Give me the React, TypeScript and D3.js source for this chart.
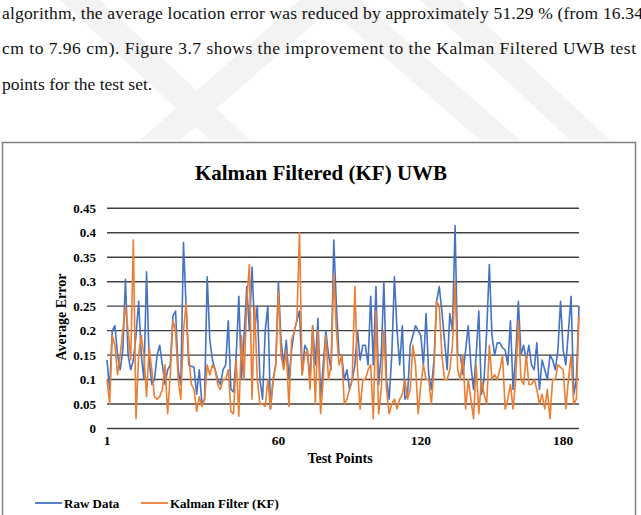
import React from 'react';
import * as d3 from 'd3';

const rawData = [
  0.14, 0.08, 0.20, 0.21, 0.15, 0.12, 0.16, 0.305, 0.15, 0.12,
  0.14, 0.19, 0.26, 0.15, 0.10, 0.32, 0.14, 0.09, 0.10, 0.15,
  0.17, 0.13, 0.09, 0.12, 0.13, 0.23, 0.24, 0.12, 0.09, 0.38,
  0.25, 0.13, 0.127, 0.125, 0.07, 0.12, 0.05, 0.06, 0.31, 0.18,
  0.14, 0.12, 0.10, 0.09, 0.12, 0.13, 0.22, 0.08, 0.075, 0.15,
  0.27, 0.10, 0.19, 0.29, 0.20, 0.33, 0.20, 0.25, 0.10, 0.06,
  0.20, 0.25, 0.04, 0.10, 0.13, 0.30, 0.18, 0.13, 0.18, 0.10,
  0.16, 0.20, 0.22, 0.24, 0.11, 0.17, 0.16, 0.10, 0.21, 0.13,
  0.225, 0.06, 0.13, 0.20, 0.15, 0.12, 0.385, 0.25, 0.15, 0.15,
  0.10, 0.12, 0.08, 0.10, 0.13, 0.20, 0.14, 0.17, 0.17, 0.13,
  0.27, 0.13, 0.29, 0.09, 0.15, 0.30, 0.10, 0.06, 0.15, 0.31,
  0.20, 0.13, 0.21, 0.06, 0.07, 0.17, 0.19, 0.21, 0.20, 0.19,
  0.13, 0.235, 0.11, 0.08, 0.14, 0.26, 0.29, 0.24, 0.18, 0.12,
  0.235, 0.20, 0.415, 0.15, 0.15, 0.11, 0.16, 0.21, 0.13, 0.08,
  0.15, 0.24, 0.07, 0.10, 0.20, 0.335, 0.19, 0.15, 0.175, 0.175,
  0.165, 0.16, 0.13, 0.22, 0.08, 0.15, 0.26, 0.15, 0.17, 0.14,
  0.17, 0.13, 0.12, 0.175, 0.08, 0.14, 0.12, 0.10, 0.15, 0.14,
  0.12, 0.16, 0.26, 0.16, 0.13, 0.20, 0.27, 0.07, 0.10, 0.25,
];

const kfData = [
  0.10, 0.05, 0.19, 0.17, 0.11, 0.15, 0.20, 0.25, 0.20, 0.14,
  0.385, 0.02, 0.15, 0.19, 0.15, 0.065, 0.165, 0.12, 0.065, 0.06,
  0.065, 0.08, 0.13, 0.03, 0.11, 0.22, 0.20, 0.10, 0.06, 0.20,
  0.255, 0.15, 0.09, 0.08, 0.035, 0.065, 0.045, 0.06, 0.13, 0.11,
  0.13, 0.12, 0.09, 0.08, 0.10, 0.10, 0.12, 0.035, 0.03, 0.14,
  0.025, 0.19, 0.10, 0.26, 0.335, 0.06, 0.25, 0.10, 0.05, 0.05,
  0.045, 0.10, 0.04, 0.10, 0.13, 0.28, 0.15, 0.12, 0.16, 0.045,
  0.18, 0.20, 0.22, 0.40, 0.11, 0.15, 0.16, 0.08, 0.21, 0.05,
  0.20, 0.03, 0.10, 0.19, 0.10, 0.13, 0.315, 0.20, 0.13, 0.15,
  0.05, 0.06, 0.08, 0.10, 0.29, 0.12, 0.04, 0.10, 0.10, 0.12,
  0.13, 0.02, 0.24, 0.03, 0.08, 0.20, 0.08, 0.03, 0.05, 0.06,
  0.04, 0.06, 0.07, 0.10, 0.06, 0.08, 0.17, 0.13, 0.03, 0.09,
  0.13, 0.10, 0.10, 0.05, 0.12, 0.26, 0.25, 0.15, 0.10, 0.10,
  0.12, 0.17, 0.30, 0.12, 0.10, 0.15, 0.04, 0.10, 0.06, 0.02,
  0.13, 0.03, 0.10, 0.07, 0.05, 0.17, 0.10, 0.11, 0.10, 0.12,
  0.15, 0.04, 0.06, 0.09, 0.04, 0.10, 0.22, 0.10, 0.09, 0.15,
  0.09, 0.09, 0.10, 0.08, 0.05, 0.07, 0.04, 0.08, 0.02, 0.10,
  0.10, 0.13, 0.125, 0.12, 0.04, 0.10, 0.15, 0.05, 0.06, 0.23,
];

const yTicks = [0, 0.05, 0.1, 0.15, 0.2, 0.25, 0.3, 0.35, 0.4, 0.45];
const xTickLabels = ['1', '60', '120', '180'];
const xTickAt = [1, 66, 120, 174];
const seriesNames = ['Raw Data', 'Kalman Filter (KF)'];
const seriesColors = ['#4472C4', '#ED7D31'];
const chartTitle = 'Kalman Filtered (KF) UWB';
const xTitle = 'Test Points';
const yTitle = 'Average Error';
const paragraphLines = [
  'algorithm, the average location error was reduced by approximately 51.29 % (from 16.34',
  'cm to 7.96 cm). Figure 3.7 shows the improvement to the Kalman Filtered UWB test',
  'points for the test set.',
];

const W = 641;
const H = 515;
const serif = '"Liberation Serif", "Times New Roman", serif';

export default function App() {
  const x = d3.scaleLinear().domain([1, rawData.length]).range([107, 579]);
  const y = d3.scaleLinear().domain([0, 0.45]).range([428.5, 208.3]);
  const line = d3
    .line<number>()
    .x((_, i) => x(i + 1))
    .y((d) => y(d));
  const series = [rawData, kfData];

  const lineY = [18.5, 54, 89.5];
  const lineLen = [641, 634, 0];

  return (
    <svg
      width={W}
      height={H}
      viewBox={`0 0 ${W} ${H}`}
      style={{ position: 'absolute', left: 0, top: 0, background: '#fff' }}
    >
      <rect x={0} y={0} width={W} height={H} fill="#fff" />
      {/* faint watermark */}
      <g fill="#f3f3f3">
        <polygon points="60,0 100,0 250,140 210,140" />
        <polygon points="300,0 360,0 520,140 480,140 330,10 180,140 140,140" />
        <polygon points="420,0 460,0 610,140 570,140" />
      </g>
      {paragraphLines.map((t, i) => (
        <text
          key={i}
          x={2}
          y={lineY[i]}
          fontFamily={serif}
          fontSize={17.5}
          fill="#111"
          {...(lineLen[i] ? { textLength: lineLen[i], lengthAdjust: 'spacing' } : {})}
        >
          {t}
        </text>
      ))}
      <rect x={2.5} y={142.5} width={633} height={400} fill="#fff" stroke="#7f7f7f" strokeWidth={1.5} />
      <text x={321} y={180} textAnchor="middle" fontFamily={serif} fontWeight="bold" fontSize={21} fill="#000">
        {chartTitle}
      </text>
      {yTicks.map((t) => (
        <g key={t}>
          <line x1={107} x2={579} y1={y(t)} y2={y(t)} stroke="#404040" strokeWidth={1.4} />
          <text
            x={96}
            y={y(t) + 4.5}
            textAnchor="end"
            fontFamily={serif}
            fontWeight="bold"
            fontSize={13}
            fill="#000"
          >
            {String(t)}
          </text>
        </g>
      ))}
      {series.map((s, k) => (
        <path key={k} d={line(s) || ''} fill="none" stroke={seriesColors[k]} strokeWidth={1.6} strokeLinejoin="round" />
      ))}
      {xTickLabels.map((lab, i) => (
        <text
          key={lab}
          x={x(xTickAt[i])}
          y={445}
          textAnchor="middle"
          fontFamily={serif}
          fontWeight="bold"
          fontSize={13.5}
          fill="#000"
        >
          {lab}
        </text>
      ))}
      <text x={340} y={463} textAnchor="middle" fontFamily={serif} fontWeight="bold" fontSize={14} fill="#000">
        {xTitle}
      </text>
      <text
        transform={`translate(66,317) rotate(-90)`}
        textAnchor="middle"
        fontFamily={serif}
        fontWeight="bold"
        fontSize={14}
        fill="#000"
      >
        {yTitle}
      </text>
      {seriesNames.map((n, k) => {
        const lx = k === 0 ? 35 : 141;
        return (
          <g key={n}>
            <line x1={lx} x2={lx + 27} y1={503} y2={503} stroke={seriesColors[k]} strokeWidth={1.8} />
            <text x={lx + 29} y={507.5} fontFamily={serif} fontWeight="bold" fontSize={13} fill="#000">
              {n}
            </text>
          </g>
        );
      })}
    </svg>
  );
}
